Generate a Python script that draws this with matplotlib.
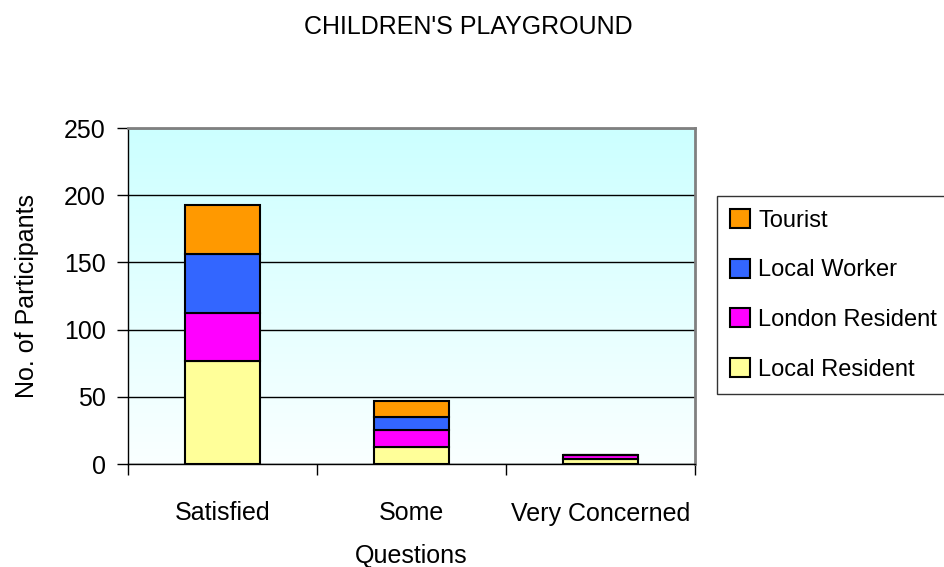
import numpy as np
import matplotlib
matplotlib.use("Agg")
import matplotlib.pyplot as plt
from matplotlib.colors import LinearSegmentedColormap

plt.rcParams['font.family'] = ['Liberation Sans', 'DejaVu Sans']

categories = ["Satisfied", "Some\nQuestions", "Very Concerned"]
series_names = ["Local Resident", "London Resident", "Local Worker", "Tourist"]
local_resident = [77, 13, 4]
london_resident = [35, 12, 3]
local_worker = [44, 10, 0]
tourist = [37, 12, 0]
colors = ["#FFFF99", "#FF00FF", "#3366FF", "#FF9900"]
yticks = [0, 50, 100, 150, 200, 250]

FS = 18

fig = plt.figure(figsize=(9.44, 5.67), dpi=100)
ax = fig.add_axes([128/944, 1-464/567, 567/944, 336/567])

# gradient background
cmap = LinearSegmentedColormap.from_list("bg", ["#FAFFFF", "#CCFFFF"])
grad = np.linspace(0, 1, 256).reshape(-1, 1)
ax.imshow(grad, extent=[-0.5, 2.5, 0, 250], origin="lower", aspect="auto",
          cmap=cmap, zorder=0)

x = np.arange(len(categories))
bottom = np.zeros(len(categories))
series = [local_resident, london_resident, local_worker, tourist]
handles = []
for name, vals, c in zip(series_names, series, colors):
    vals = np.array(vals, dtype=float)
    b = ax.bar(x, vals, 0.4, bottom=bottom, color=c, edgecolor="black",
               linewidth=1.5, label=name, zorder=3)
    handles.append(b)
    bottom += vals

ax.set_xlim(-0.5, 2.5)
ax.set_ylim(0, 250)
ax.set_yticks(yticks)
ax.yaxis.grid(True, color="black", linewidth=1.0)
for gl in ax.get_ygridlines():
    gl.set_zorder(1)

ax.set_xticks(x)
ax.set_xticklabels(categories, fontsize=FS, linespacing=2.0)
ax.set_xticks([-0.5, 0.5, 1.5, 2.5], minor=True)
ax.tick_params(axis="x", which="major", length=0, pad=27)
ax.tick_params(axis="x", which="minor", length=8, width=1, color="black")
ax.tick_params(axis="y", labelsize=FS, length=8, width=1, pad=8)

for s in ["top", "right"]:
    ax.spines[s].set_color("#808080")
    ax.spines[s].set_linewidth(2)
for s in ["left", "bottom"]:
    ax.spines[s].set_color("black")
    ax.spines[s].set_linewidth(1)

ax.set_ylabel("No. of Participants", fontsize=FS, labelpad=18)
fig.text(468/944, 1-27/567, "CHILDREN'S PLAYGROUND", ha="center", va="center",
         fontsize=FS)

leg = ax.legend(handles[::-1], series_names[::-1], loc="upper left",
                bbox_to_anchor=(589/567, 268/336), borderaxespad=0,
                fontsize=17, frameon=True, fancybox=False, edgecolor="black",
                handlelength=0.85, handleheight=0.85, handletextpad=0.35,
                labelspacing=1.15, borderpad=0.55)
leg.get_frame().set_linewidth(1)

fig.savefig("out.png", dpi=100)
